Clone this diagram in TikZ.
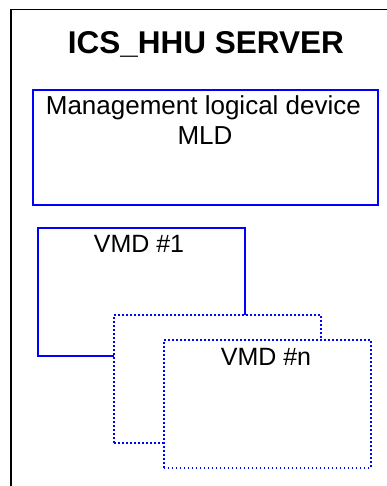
\documentclass[tikz,border=0pt]{standalone}
\usepackage{fontspec}
\setmainfont{Liberation Sans}
\begin{document}
\begin{tikzpicture}[x=1pt,y=-1pt,
  frame/.style={draw=black,line width=1.5pt,anchor=north west,inner sep=0pt},
  solidbox/.style={draw=blue,line width=1.8pt,fill=white,anchor=north west,inner sep=0pt,minimum width=207pt,minimum height=128pt},
  dotbox/.style={solidbox,dash pattern=on 1.8pt off 2.2pt},
  txt/.style={anchor=base,inner sep=0pt,font=\fontsize{26}{30}\selectfont},
  vtxt/.style={anchor=base,inner sep=0pt,font=\fontsize{25}{30}\selectfont}]
\useasboundingbox (0,0) rectangle (387,486);
\begin{scope}
  \clip (0,0) rectangle (387,486);
  \node[frame,minimum width=420pt,minimum height=520pt] (server) at (10,9) {};
\end{scope}
\node[anchor=base,inner sep=0pt,font=\fontsize{31.5}{36}\selectfont\bfseries] (title) at (205.8,53.3) {ICS\_HHU SERVER};
\node[solidbox,minimum width=345pt,minimum height=115pt] (mld) at (32,89) {};
\node[txt] (mldA) at (203.4,114.3) {Management logical device};
\node[txt] (mldB) at (205,144.3) {MLD};
\node[solidbox] (vmd1) at (36.7,226.7) {};
\node[vtxt] (vmd1t) at (139,252.3) {VMD \#1};
\node[dotbox] (vmdmid) at (113.3,314.3) {};
\node[dotbox] (vmdn) at (162.7,339) {};
\node[vtxt] (vmdnt) at (266,365) {VMD \#n};
\end{tikzpicture}
\end{document}
